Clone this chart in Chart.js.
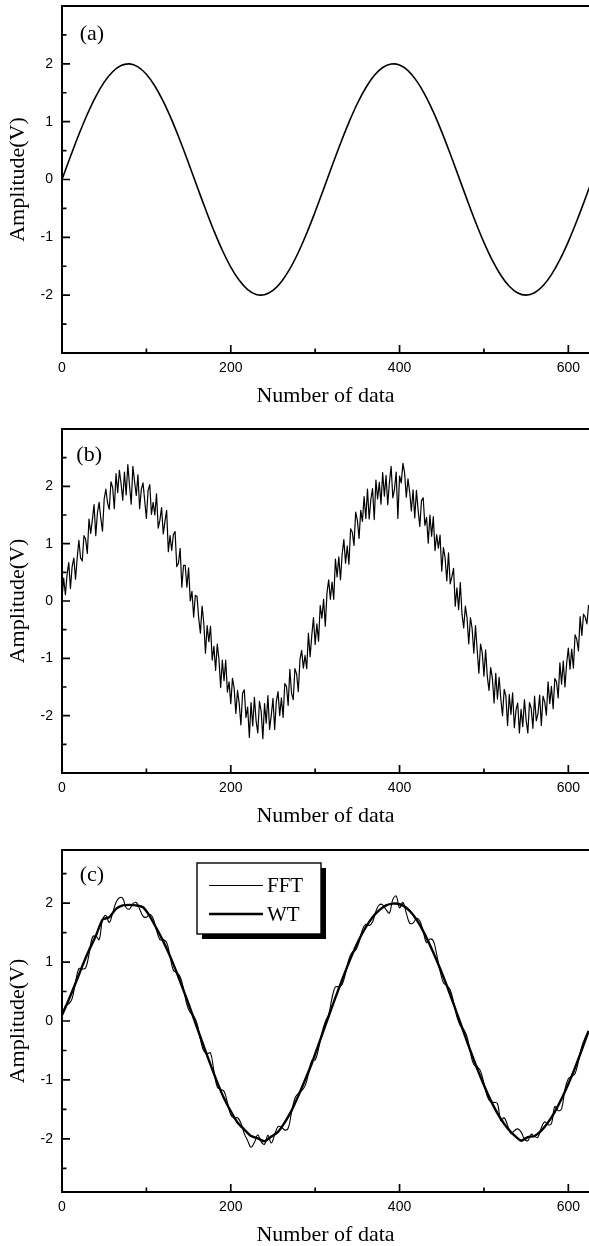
<!DOCTYPE html>
<html>
<head>
<meta charset="utf-8">
<script src="https://cdn.jsdelivr.net/npm/chart.js@4.4.1/dist/chart.umd.min.js"></script>
<style>
  html, body { margin: 0; padding: 0; background: #fff; width: 589px; height: 1246px; overflow: hidden; }
  canvas { position: absolute; left: 0; }
</style>
</head>
<body>
<canvas id="cA" width="589" height="413" style="top:0px"></canvas>
<canvas id="cB" width="589" height="410" style="top:423px"></canvas>
<canvas id="cC" width="589" height="408" style="top:844px"></canvas>
<script>
// ---------- data ----------
const X_TICKS = [0, 200, 400, 600];
const Y_TICKS = [-2, -1, 0, 1, 2];
const PANEL_TAGS = ['(a)', '(b)', '(c)'];
const SERIES_NAMES = ['FFT', 'WT'];

// (a) clean signal
const X_A = [0,10,20,30,40,50,60,70,80,90,100,110,120,130,140,150,160,170,180,190,200,210,220,230,240,250,260,270,280,290,300,310,320,330,340,350,360,370,380,390,400,410,420,430,440,450,460,470,480,490,500,510,520,530,540,550,560,570,580,590,600,610,620,630];
const Y_A = [0,0.397,0.779,1.129,1.435,1.683,1.864,1.971,1.999,1.948,1.819,1.617,1.351,1.031,0.670,0.282,-0.117,-0.511,-0.885,-1.224,-1.514,-1.743,-1.903,-1.987,-1.992,-1.918,-1.766,-1.545,-1.262,-0.929,-0.559,-0.166,0.233,0.623,0.988,1.314,1.587,1.797,1.936,1.996,1.979,1.882,1.709,1.469,1.169,0.824,0.446,0.050,-0.348,-0.733,-1.088,-1.400,-1.656,-1.847,-1.962,-2.000,-1.958,-1.838,-1.644,-1.386,-1.073,-0.718,-0.334,0.067];

// (b) noisy signal
const X_B = [0,2,4,6,8,10,12,14,16,18,20,22,24,26,28,30,32,34,36,38,
  40,42,44,46,48,50,52,54,56,58,60,62,64,66,68,70,72,74,76,78,
  80,82,84,86,88,90,92,94,96,98,100,102,104,106,108,110,112,114,116,118,
  120,122,124,126,128,130,132,134,136,138,140,142,144,146,148,150,152,154,156,158,
  160,162,164,166,168,170,172,174,176,178,180,182,184,186,188,190,192,194,196,198,
  200,202,204,206,208,210,212,214,216,218,220,222,224,226,228,230,232,234,236,238,
  240,242,244,246,248,250,252,254,256,258,260,262,264,266,268,270,272,274,276,278,
  280,282,284,286,288,290,292,294,296,298,300,302,304,306,308,310,312,314,316,318,
  320,322,324,326,328,330,332,334,336,338,340,342,344,346,348,350,352,354,356,358,
  360,362,364,366,368,370,372,374,376,378,380,382,384,386,388,390,392,394,396,398,
  400,402,404,406,408,410,412,414,416,418,420,422,424,426,428,430,432,434,436,438,
  440,442,444,446,448,450,452,454,456,458,460,462,464,466,468,470,472,474,476,478,
  480,482,484,486,488,490,492,494,496,498,500,502,504,506,508,510,512,514,516,518,
  520,522,524,526,528,530,532,534,536,538,540,542,544,546,548,550,552,554,556,558,
  560,562,564,566,568,570,572,574,576,578,580,582,584,586,588,590,592,594,596,598,
  600,602,604,606,608,610,612,614,616,618,620,622,624];
const Y_B = [0.05,0.40,0.11,0.46,0.67,0.22,0.60,0.75,0.38,0.75,
  1.06,0.75,0.70,1.14,1.08,0.83,1.43,1.18,1.42,1.68,
  1.14,1.54,1.72,1.44,1.22,1.78,1.95,1.71,1.60,2.08,
  1.98,1.61,2.22,1.89,2.28,2.05,1.76,2.25,1.85,2.38,
  2.02,1.69,2.35,2.08,1.84,2.20,1.61,1.95,2.06,1.75,
  1.44,1.93,2.03,1.51,1.72,1.50,1.87,1.27,1.41,1.63,
  1.17,1.39,1.58,0.86,1.14,0.88,1.16,1.21,0.60,0.66,
  0.92,0.24,0.62,0.62,0.24,0.58,0.00,0.17,-0.28,0.10,
  0.08,-0.30,-0.56,-0.09,-0.38,-0.91,-0.43,-0.71,-0.44,-1.03,
  -0.79,-1.21,-0.75,-1.02,-1.51,-1.03,-1.39,-1.03,-1.59,-1.41,
  -1.79,-1.35,-1.52,-1.96,-1.56,-1.79,-2.16,-1.61,-1.55,-2.03,
  -1.85,-2.38,-1.77,-2.18,-1.68,-2.09,-2.30,-1.75,-1.92,-2.40,
  -1.79,-2.13,-1.65,-2.24,-1.99,-1.70,-2.24,-1.75,-1.58,-2.00,
  -1.69,-2.03,-1.44,-1.49,-1.82,-1.19,-1.61,-1.72,-1.18,-1.27,
  -1.58,-1.02,-0.86,-1.17,-0.95,-1.18,-0.56,-0.97,-0.60,-0.29,
  -0.76,-0.40,-0.70,-0.08,-0.30,0.03,-0.44,0.14,0.37,0.03,
  0.33,0.03,0.73,0.42,0.77,0.37,0.82,1.07,0.66,0.96,
  0.64,1.26,1.20,0.97,1.55,1.41,1.09,1.58,1.39,1.82,
  1.44,1.95,1.43,1.77,1.96,1.42,2.11,1.78,2.07,1.69,
  2.24,1.83,2.19,1.68,2.07,2.35,1.80,1.95,2.25,1.44,
  2.18,2.06,2.40,2.23,1.81,2.13,1.90,1.57,1.94,1.45,
  1.93,1.59,1.30,1.75,1.80,1.32,1.46,1.01,1.50,1.13,
  1.47,0.88,1.16,0.92,1.15,0.52,0.93,0.75,0.35,0.84,
  0.30,0.42,0.57,-0.09,0.23,-0.15,0.32,-0.23,-0.47,-0.09,
  -0.30,-0.75,-0.29,-0.48,-0.91,-0.43,-0.86,-1.26,-0.75,-0.90,
  -1.31,-0.85,-1.32,-1.56,-1.16,-1.35,-1.78,-1.26,-1.71,-1.33,
  -1.71,-2.00,-1.54,-1.66,-2.17,-1.63,-1.98,-1.60,-2.21,-1.90,
  -1.78,-2.30,-1.89,-2.19,-1.72,-2.08,-2.30,-1.77,-1.87,-2.22,
  -1.66,-2.09,-1.97,-1.64,-2.17,-1.66,-1.76,-1.99,-1.41,-1.79,
  -1.49,-1.88,-1.35,-1.41,-1.69,-1.08,-1.45,-1.05,-1.50,-1.09,
  -0.82,-1.19,-0.84,-1.17,-0.59,-0.67,-0.87,-0.27,-0.60,-0.23,
  -0.28,-0.40,-0.07];

// (c) FFT result
const X_FFT = [0,4,8,12,16,20,24,28,32,36,40,44,48,52,56,60,64,68,72,76,80,84,88,92,96,100,104,108,112,116,120,124,128,132,136,140,144,148,152,156,160,164,168,172,176,180,184,188,192,196,200,204,208,212,216,220,224,228,232,236,240,244,248,252,256,260,264,268,272,276,280,284,288,292,296,300,304,308,312,316,320,324,328,332,336,340,344,348,352,356,360,364,368,372,376,380,384,388,392,396,400,404,408,412,416,420,424,428,432,436,440,444,448,452,456,460,464,468,472,476,480,484,488,492,496,500,504,508,512,516,520,524,528,532,536,540,544,548,552,556,560,564,568,572,576,580,584,588,592,596,600,604,608,612,616,620,624];
const Y_FFT = [0.08,0.26,0.29,0.38,0.66,0.89,0.88,0.90,1.13,1.42,
  1.44,1.38,1.72,1.79,1.67,1.83,2.01,2.09,2.08,1.92,
  1.90,1.99,2.01,1.90,1.78,1.76,1.81,1.74,1.54,1.38,
  1.38,1.33,1.10,0.86,0.82,0.75,0.55,0.28,0.14,0.09,
  -0.04,-0.31,-0.51,-0.55,-0.54,-0.85,-1.12,-1.16,-1.19,-1.38,
  -1.59,-1.65,-1.64,-1.73,-1.91,-2.03,-2.14,-2.06,-1.93,-2.05,
  -2.09,-1.94,-2.07,-1.93,-1.79,-1.80,-1.85,-1.82,-1.55,-1.31,
  -1.23,-1.18,-1.10,-0.90,-0.67,-0.66,-0.47,-0.20,-0.01,0.11,
  0.39,0.58,0.58,0.62,0.81,1.05,1.17,1.20,1.34,1.55,
  1.64,1.62,1.68,1.86,1.97,1.97,1.89,1.83,2.06,2.12,
  1.92,2.01,1.83,1.66,1.66,1.74,1.70,1.52,1.33,1.39,
  1.36,1.13,0.85,0.65,0.60,0.53,0.32,0.07,-0.08,-0.14,
  -0.27,-0.54,-0.74,-0.78,-0.85,-1.06,-1.28,-1.37,-1.38,-1.40,
  -1.69,-1.64,-1.77,-1.91,-1.86,-1.83,-1.88,-2.00,-2.03,-1.92,
  -1.96,-1.97,-1.81,-1.71,-1.76,-1.74,-1.45,-1.52,-1.49,-1.16,
  -0.98,-0.94,-0.89,-0.68,-0.43,-0.28,-0.17];

// (c) WT result
const X_WT = [0,8,16,24,32,40,48,56,64,72,80,88,96,104,112,120,128,136,144,152,160,168,176,184,192,200,208,216,224,232,240,248,256,264,272,280,288,296,304,312,320,328,336,344,352,360,368,376,384,392,400,408,416,424,432,440,448,456,464,472,480,488,496,504,512,520,528,536,544,552,560,568,576,584,592,600,608,616,624];
const Y_WT = [0.10,0.36,0.64,0.93,1.20,1.44,1.72,1.76,1.90,1.96,
  1.97,1.96,1.93,1.78,1.57,1.35,1.10,0.82,0.52,0.21,
  -0.11,-0.43,-0.74,-1.04,-1.31,-1.53,-1.72,-1.84,-1.95,-1.99,
  -2.04,-1.96,-1.88,-1.72,-1.52,-1.27,-1.00,-0.72,-0.40,-0.08,
  0.24,0.55,0.85,1.13,1.38,1.59,1.76,1.88,1.96,1.99,
  1.98,1.92,1.80,1.63,1.41,1.16,0.89,0.60,0.29,-0.03,
  -0.35,-0.66,-0.95,-1.22,-1.46,-1.66,-1.82,-1.94,-2.03,-1.97,
  -1.95,-1.86,-1.72,-1.54,-1.32,-1.07,-0.79,-0.49,-0.17];

// ---------- drawing ----------
const SERIF = '"Liberation Serif", "Times New Roman", serif';
const SANS = '"Liberation Sans", Arial, sans-serif';
const pts = (xs, ys) => xs.map((x, i) => ({ x: x, y: ys[i] }));

const framePlugin = {
  id: 'frame',
  afterDatasetsDraw(chart, args, o) {
    const { ctx, chartArea: a, scales: { x, y } } = chart;
    ctx.save();
    ctx.strokeStyle = '#000';
    ctx.lineWidth = 2;
    ctx.beginPath();
    ctx.moveTo(a.right + 3, a.top);
    ctx.lineTo(a.left, a.top);
    ctx.lineTo(a.left, a.bottom);
    ctx.lineTo(a.right + 3, a.bottom);
    ctx.stroke();
    ctx.lineWidth = 1.7;
    ctx.beginPath();
    for (let v = Math.ceil(y.min * 2) / 2; v <= y.max + 1e-9; v += 0.5) {
      const py = y.getPixelForValue(v);
      const len = Number.isInteger(v) ? 8 : 4.5;
      ctx.moveTo(a.left, py); ctx.lineTo(a.left + len, py);
    }
    for (let v = 100; v <= x.max; v += 100) {
      const px = x.getPixelForValue(v);
      const len = (v % 200 === 0) ? 8 : 4.5;
      ctx.moveTo(px, a.bottom); ctx.lineTo(px, a.bottom - len);
    }
    ctx.stroke();
    ctx.fillStyle = '#000';
    ctx.font = '22px ' + SERIF;
    ctx.textBaseline = 'middle';
    ctx.textAlign = 'left';
    ctx.fillText(o.tag, x.getPixelForValue(o.tagX), y.getPixelForValue(o.tagY));
    ctx.restore();
  }
};

const boxLegend = {
  id: 'boxLegend',
  afterDraw(chart, args, o) {
    if (!o || !o.show) return;
    const { ctx, chartArea: a } = chart;
    const L = Math.round(a.left + o.dx), T = Math.round(a.top + o.dy);
    ctx.save();
    ctx.fillStyle = '#000';
    ctx.fillRect(L + o.shadow, T + o.shadow, o.w, o.h);
    ctx.fillStyle = '#fff';
    ctx.fillRect(L, T, o.w, o.h);
    ctx.strokeStyle = '#000';
    ctx.lineWidth = 1.4;
    ctx.strokeRect(L, T, o.w, o.h);
    chart.data.datasets.forEach((ds, i) => {
      const yy = T + o.rowY[i] + (ds.borderWidth < 1.5 ? 0.5 : 0);
      ctx.lineWidth = ds.borderWidth;
      ctx.beginPath();
      ctx.moveTo(L + 12, yy); ctx.lineTo(L + 66, yy);
      ctx.stroke();
      ctx.fillStyle = '#000';
      ctx.font = '21px ' + SERIF;
      ctx.textBaseline = 'middle';
      ctx.textAlign = 'left';
      ctx.fillText(ds.label, L + 70, T + o.rowY[i] + 1);
    });
    ctx.restore();
  }
};

function makeChart(id, datasets, yLim, tag, tagX, tagY, legendOpts) {
  return new Chart(document.getElementById(id), {
    type: 'line',
    data: { datasets: datasets },
    options: {
      responsive: false,
      animation: false,
      events: [],
      layout: { padding: { top: 6, left: 0, right: 0, bottom: 0 } },
      elements: { point: { radius: 0 }, line: { fill: false, borderJoinStyle: 'round' } },
      plugins: {
        legend: { display: false },
        tooltip: { enabled: false },
        frame: { tag: tag, tagX: tagX, tagY: tagY },
        boxLegend: legendOpts || { show: false }
      },
      scales: {
        x: {
          type: 'linear', position: 'bottom', min: 0, max: 624.5,
          afterBuildTicks: s => { s.ticks = X_TICKS.map(v => ({ value: v })); },
          afterFit: s => { s.height = 60; s.paddingLeft = 0; s.paddingRight = 0; },
          grid: { display: false, drawTicks: false },
          border: { display: false },
          ticks: {
            autoSkip: false, maxRotation: 0, minRotation: 0,
            padding: 7, color: '#000', font: { family: SANS, size: 14 },
            callback: v => String(v)
          },
          title: { display: true, text: 'Number of data', color: '#000',
                   font: { family: SERIF, size: 22 }, padding: { top: 0, bottom: 4 } }
        },
        y: {
          type: 'linear', position: 'left', min: -yLim, max: yLim,
          afterBuildTicks: s => { s.ticks = Y_TICKS.map(v => ({ value: v })); },
          afterFit: s => { s.width = 62; s.paddingTop = 0; s.paddingBottom = 0; },
          grid: { display: false, drawTicks: false },
          border: { display: false },
          ticks: {
            autoSkip: false,
            padding: 9, color: '#000', font: { family: SANS, size: 14 },
            callback: v => String(v)
          },
          title: { display: true, text: 'Amplitude(V)', color: '#000',
                   font: { family: SERIF, size: 22 }, padding: { top: 5, bottom: 0 } }
        }
      }
    },
    plugins: [framePlugin, boxLegend]
  });
}

makeChart('cA', [
  { label: 'signal', data: pts(X_A, Y_A), borderColor: '#000', borderWidth: 1.6, tension: 0.4 }
], 3, PANEL_TAGS[0], 21, 2.52);

makeChart('cB', [
  { label: 'noisy signal', data: pts(X_B, Y_B), borderColor: '#000', borderWidth: 1.2, tension: 0 }
], 3, PANEL_TAGS[1], 17, 2.54);

makeChart('cC', [
  { label: SERIES_NAMES[0], data: pts(X_FFT, Y_FFT), borderColor: '#000', borderWidth: 1.1, tension: 0.4 },
  { label: SERIES_NAMES[1], data: pts(X_WT, Y_WT), borderColor: '#000', borderWidth: 2.4, tension: 0.2 }
], 2.9, PANEL_TAGS[2], 21, 2.47,
  { show: true, dx: 135, dy: 13, w: 124, h: 71, shadow: 5, rowY: [22, 51] });
</script>
</body>
</html>
